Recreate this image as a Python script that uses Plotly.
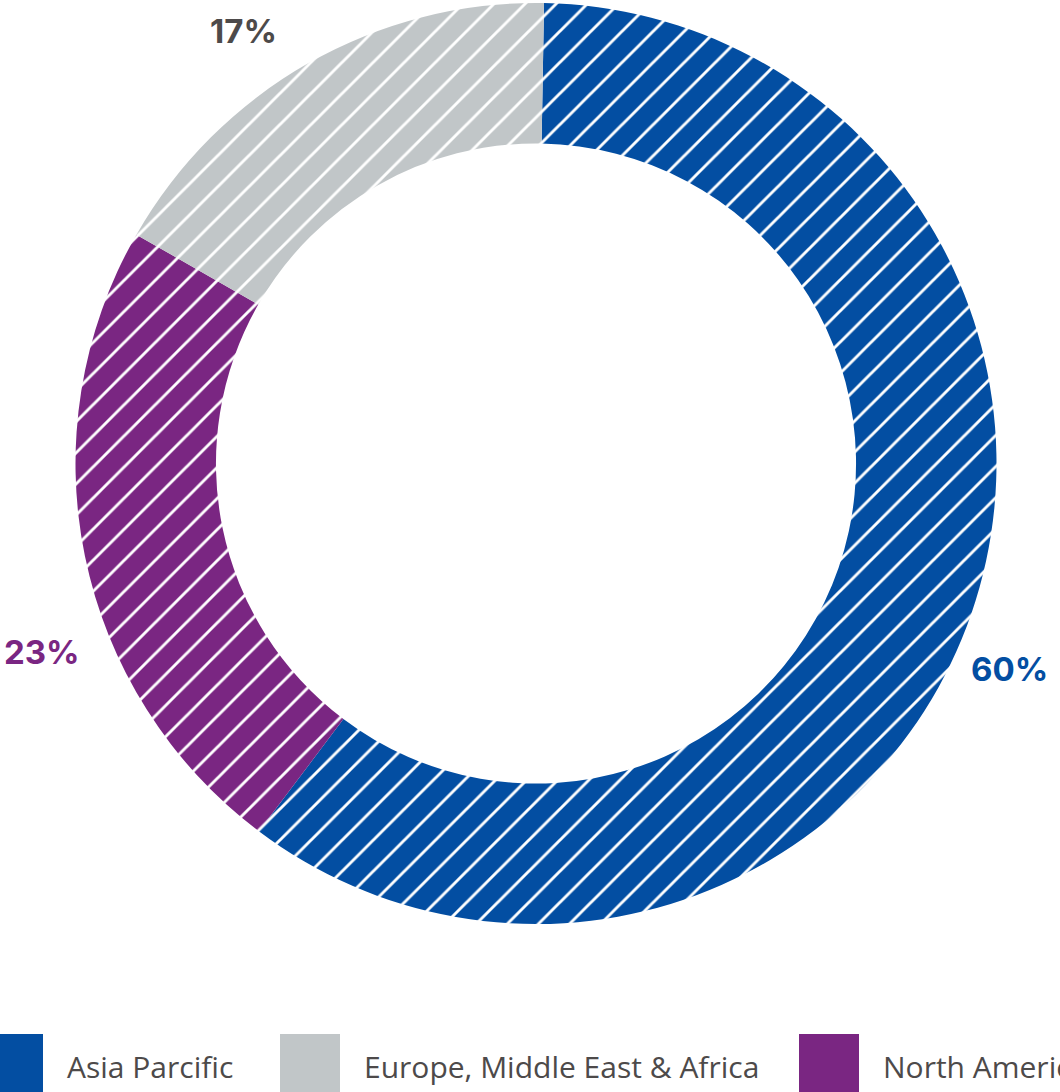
import plotly.graph_objects as go

# regional split
regions = ["Asia Parcific", "North America", "Europe, Middle East & Africa"]
shares = [60, 23, 17]
colors = ["#034EA2", "#7A2682", "#C1C6C8"]
label_colors = ["#034EA2", "#7A2682", "#4D4A4A"]

# legend order as in the source
legend_regions = ["Asia Parcific", "Europe, Middle East & Africa", "North America"]
legend_colors = ["#034EA2", "#C1C6C8", "#7A2682"]

W, H = 1060, 1092


def px(x, y):
    return x / W, 1 - y / H


fig = go.Figure(go.Pie(
    labels=regions,
    values=shares,
    sort=False,
    direction="clockwise",
    rotation=1,
    hole=0.695,
    textinfo="none",
    hoverinfo="label+percent",
    marker=dict(
        colors=colors,
        line=dict(width=0),
        pattern=dict(shape="/", fgcolor="white", fgopacity=1, size=22, solidity=0.13,
                     fillmode="overlay"),
    ),
    domain=dict(x=[75 / W, 997 / W], y=[168 / H, 1089 / H]),
    showlegend=False,
))

# percentage labels around the ring
label_pos = [(1009, 669), (42, 652), (243, 31)]
annotations = []
for v, c, (lx, ly) in zip(shares, label_colors, label_pos):
    ax, ay = px(lx, ly)
    annotations.append(dict(
        x=ax, y=ay, xref="paper", yref="paper", text=f"<b>{v}%</b>",
        showarrow=False, xanchor="center", yanchor="middle",
        font=dict(family="Inter", size=33, color=c),
    ))

# legend drawn by hand: big square swatches
shapes = []
swatch_x = [-17, 280, 799]
for name, c, sx in zip(legend_regions, legend_colors, swatch_x):
    x0, y0 = px(sx, 1034)
    x1, y1 = px(sx + 60, 1094)
    shapes.append(dict(type="rect", xref="paper", yref="paper", x0=x0, x1=x1, y0=y1, y1=y0,
                       fillcolor=c, line=dict(width=0)))
    tx, ty = px(sx + 82, 1066)
    annotations.append(dict(
        x=tx, y=ty, xref="paper", yref="paper", text=name, showarrow=False,
        xanchor="left", yanchor="middle",
        font=dict(family="Open Sans", size=30, color="#4D4A4A"),
    ))

fig.update_layout(
    width=W,
    height=H,
    margin=dict(l=0, r=0, t=0, b=0),
    paper_bgcolor="white",
    plot_bgcolor="white",
    shapes=shapes,
    annotations=annotations,
)

fig.write_html("out.html", config={"displayModeBar": False},
               post_script="document.body.style.margin='0';")
